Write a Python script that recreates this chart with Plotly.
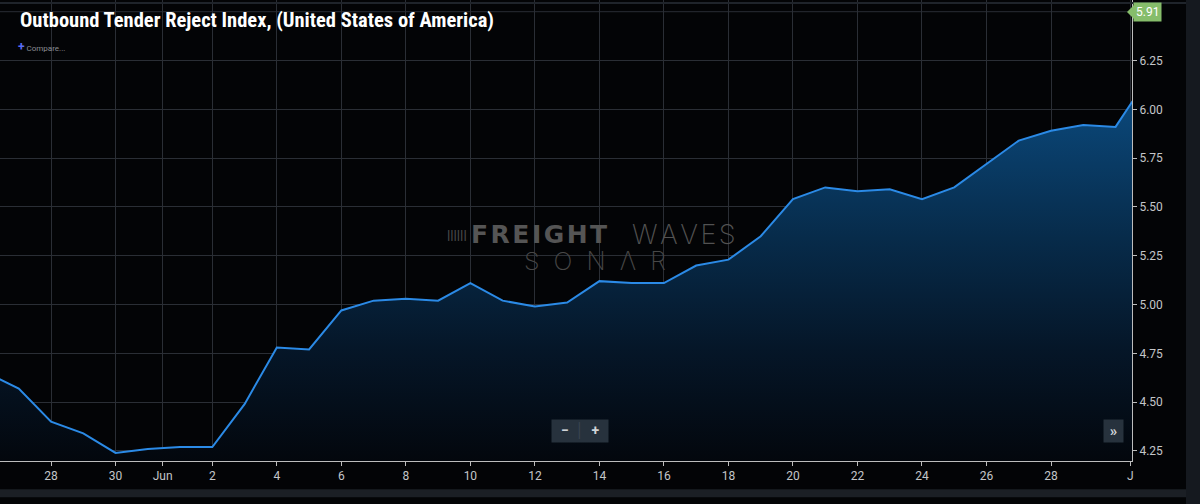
import pandas as pd
import plotly.graph_objects as go

# Outbound Tender Reject Index (USA), daily values
dates = pd.date_range("2019-05-26", "2019-07-01", freq="D")
otri = [
    4.65, 4.57, 4.40, 4.34, 4.24, 4.26,                    # May 26-31
    4.27, 4.27, 4.49, 4.78, 4.77, 4.97, 5.02, 5.03, 5.02,  # Jun 1-9
    5.11, 5.02, 4.99, 5.01, 5.12, 5.11, 5.11, 5.20, 5.23,  # Jun 10-18
    5.35, 5.54, 5.60, 5.58, 5.59, 5.54, 5.60, 5.72, 5.84,  # Jun 19-27
    5.89, 5.92, 5.91,                                      # Jun 28-30
    6.16,                                                  # Jul 1
]
last_value = "5.91"

tick_dates = ["2019-05-28", "2019-05-30", "2019-05-31 11:00"] + [
    f"2019-06-{d:02d}" for d in range(2, 29, 2)
] + ["2019-06-30 11:00"]
tick_text = ["28", "30", "Jun"] + [str(d) for d in range(2, 29, 2)] + ["J"]
y_ticks = [4.25, 4.50, 4.75, 5.00, 5.25, 5.50, 5.75, 6.00, 6.25]

BG = "#030406"
GRID = "#2a2e35"
AXIS = "#bdbdbd"
LABEL = "#c4c6c9"
H = 460.7  # plot height in px, used to place overlay items


def py(px):
    return (H - px) / H


fig = go.Figure()
fig.add_trace(go.Scatter(
    x=dates, y=otri, mode="lines",
    line=dict(color="#2b8ae6", width=2),
    fill="tozeroy",
    fillgradient=dict(
        type="vertical",
        colorscale=[[0, "#03070d"], [0.3, "#051628"], [0.6, "#072b4a"], [1, "#0b4a7e"]],
        start=4.2, stop=6.1,
    ),
    hoverinfo="skip",
))

fig.update_layout(
    width=1200, height=504,
    margin=dict(l=0, r=68, t=0, b=43),
    paper_bgcolor=BG, plot_bgcolor=BG,
    showlegend=False,
    font=dict(family="Roboto, sans-serif", color=LABEL, size=12),
)
fig.update_xaxes(
    range=["2019-05-26 10:02", "2019-06-30 12:15"],
    tickvals=tick_dates, ticktext=tick_text,
    showgrid=True, gridcolor=GRID, gridwidth=1,
    showline=True, linecolor=AXIS, linewidth=1,
    ticks="outside", ticklen=4, tickcolor=AXIS,
    tickfont=dict(size=12, color=LABEL),
    zeroline=False, fixedrange=True,
)
fig.update_yaxes(
    side="right", range=[4.1987, 6.56],
    tickvals=y_ticks, tickformat=".2f",
    showgrid=True, gridcolor=GRID, gridwidth=1,
    showline=True, linecolor=AXIS, linewidth=1,
    ticks="outside", ticklen=4, tickcolor=AXIS,
    tickfont=dict(size=12, color=LABEL),
    zeroline=False, fixedrange=True,
)
# 6.50 gridline (its label sits under the last-value tag)
fig.add_hline(y=6.5, line=dict(color=GRID, width=1), layer="below")

# frame strips
fig.add_shape(type="rect", xref="paper", yref="paper",
              x0=1186 / 1132, x1=1.07, y0=-0.1, y1=1.0,
              fillcolor="#15191f", line_width=0, layer="below")
fig.add_shape(type="rect", xref="paper", yref="paper",
              x0=0, x1=1186 / 1132, y0=py(489), y1=py(497),
              fillcolor="#1b1f25", line_width=0, layer="below")
fig.add_shape(type="line", xref="paper", yref="paper",
              x0=0, x1=1186 / 1132, y0=py(3), y1=py(3),
              line=dict(color="#1f242b", width=2))

hs = "\u200a"
annotations = [
    dict(text="<b>Outbound Tender Reject Index, (United States of America)</b>",
         x=18 / 1132, y=py(20), xanchor="left", yanchor="middle",
         font=dict(family="Liberation Sans Narrow, Roboto Condensed, Roboto", size=20.5,
                   color="#ffffff")),
    dict(text="<span style='color:#5a6cf2;font-size:12px'><b>+</b></span> Compare...",
         x=16 / 1132, y=py(47), xanchor="left", yanchor="middle",
         font=dict(size=8, color="#8a8d92")),
    # watermark
    dict(text="<b>||||||</b>", x=457 / 1132, y=py(234),
         xanchor="center", yanchor="middle", font=dict(size=13, color="#4a4a4a")),
    dict(text=hs.join("FREIGHT"), x=469 / 1132, y=py(234),
         xanchor="left", yanchor="middle",
         font=dict(family="DejaVu Sans", size=25, color="#555555", weight=900)),
    dict(text=hs.join("WAVES"), x=738 / 1132, y=py(234),
         xanchor="right", yanchor="middle",
         font=dict(family="Inter, Lato", size=27, color="#525252", weight=200)),
    dict(text="S  O  N  Λ  R", x=595 / 1132, y=py(261),
         xanchor="center", yanchor="middle",
         font=dict(family="Inter, Lato", size=25, color="#474747", weight=200)),
    # buttons
    dict(text="  <b>−</b>  <span style='color:#3b4652'>│</span>  <b>+</b>  ",
         x=580 / 1132, y=py(431),
         xanchor="center", yanchor="middle", bgcolor="#27323d", borderpad=2,
         font=dict(size=14, color="#d0d4d8")),
    dict(text=" <b>»</b> ", x=1113 / 1132, y=py(431),
         xanchor="center", yanchor="middle", bgcolor="#27323d", borderpad=2,
         font=dict(size=15, color="#d0d4d8")),
    # last value tag
    dict(text=last_value, x=1147 / 1132, y=py(12),
         xanchor="center", yanchor="middle", bgcolor="#86bd6b", borderpad=2,
         font=dict(size=12, color="#ffffff")),
]
for a in annotations:
    a.setdefault("xref", "paper")
    a.setdefault("yref", "paper")
    a.setdefault("showarrow", False)
    fig.add_annotation(**a)

fig.add_shape(type="path", xref="paper", yref="paper",
              path=f"M {1127/1132},{py(12)} L {1135/1132},{py(4)} "
                   f"L {1135/1132},{py(20)} Z",
              fillcolor="#86bd6b", line_width=0)

fig.write_html("out.html", config={"displayModeBar": False},
               post_script="document.body.style.margin='0';")
